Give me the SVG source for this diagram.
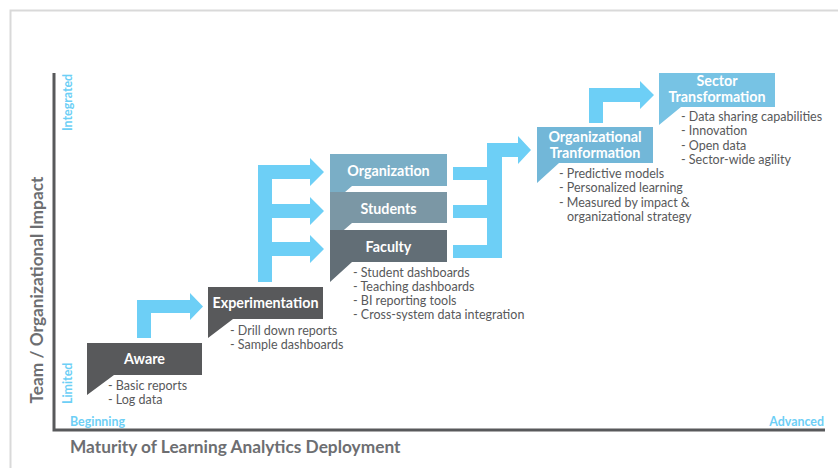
<svg xmlns="http://www.w3.org/2000/svg" width="838" height="468" viewBox="0 0 838 468">
<style>
.frame{fill:none;stroke:#d9d9d9;stroke-width:2}
.axis{fill:none;stroke:#58595b;stroke-width:3}
.arrow{fill:#6dcff6}
.dark{fill:#58595b}
.t{font-family:Lato,"Open Sans","Liberation Sans",sans-serif}
.title{font-weight:bold;font-size:14.3px;fill:#ffffff;text-anchor:middle}
.item{font-size:12.5px;fill:#58595b}
.axl{font-weight:bold;font-size:17.3px;fill:#6d6e71}
.tick{font-weight:bold;font-size:12.4px;fill:#6dcff6}
</style>
<rect width="838" height="468" fill="#ffffff"/>
<path class="frame" d="M838 10.5 H10.5 V468"/>
<g id="axes">
<path class="axis" d="M54 73 V430 H825"/>
<text class="t axl" transform="translate(43,290) rotate(-90)" text-anchor="middle">Team / Organizational Impact</text>
<text class="t axl" x="70" y="453">Maturity of Learning Analytics Deployment</text>
<text class="t tick" transform="translate(71.5,131) rotate(-90)">Integrated</text>
<text class="t tick" transform="translate(71.5,404) rotate(-90)">Limited</text>
<text class="t tick" x="70" y="426">Beginning</text>
<text class="t tick" x="824" y="426" text-anchor="end">Advanced</text>
</g>
<g id="connectors">
<polygon class="arrow" points="137,338 137,300 190,300 190,293 203,306.5 190,320 190,313 151,313 151,338"/>
<polygon class="arrow" points="258,282 258,165 310,165 310,158 324,172 310,186 310,179 272,179 272,204 310,204 310,197 324,211 310,225 310,218 272,218 272,242 310,242 310,235 324,249 310,263 310,256 272,256 272,282"/>
<polygon class="arrow" points="453,167 487,167 487,143 518,143 518,136 531,150 518,164 518,157 502,157 502,258 453,258 453,245 487,245 487,218 453,218 453,205 487,205 487,180 453,180"/>
<polygon class="arrow" points="589,123 589,88 640,88 640,81 654,95 640,109 640,102 603,102 603,123"/>
</g>
<g id="aware">
<polygon class="dark" points="87,343 202,343 202,375 114,375 87,395"/>
<text class="t title" x="144.5" y="364">Aware</text>
<text class="t item"><tspan x="108" y="390">- Basic reports</tspan><tspan x="108" y="404">- Log data</tspan></text>
</g>
<g id="experimentation">
<polygon class="dark" points="208,287 323,287 323,319 233,319 208,338"/>
<text class="t title" x="265.5" y="308">Experimentation</text>
<text class="t item"><tspan x="230" y="335">- Drill down reports</tspan><tspan x="230" y="349">- Sample dashboards</tspan></text>
</g>
<g id="organization">
<polygon fill="#7aaec6" points="330,154 447,154 447,186 352,186 330,205"/>
<text class="t title" x="388.5" y="176">Organization</text>
</g>
<g id="students">
<polygon fill="#7b97a5" points="330,192 447,192 447,223 352,223 330,242"/>
<text class="t title" x="388.5" y="214">Students</text>
</g>
<g id="faculty">
<polygon fill="#626e76" points="330,230 447,230 447,262 352,262 330,282"/>
<text class="t title" x="388.5" y="252">Faculty</text>
<text class="t item"><tspan x="353" y="277">- Student dashboards</tspan><tspan x="353" y="291">- Teaching dashboards</tspan><tspan x="353" y="305">- BI reporting tools</tspan><tspan x="353" y="319">- Cross-system data integration</tspan></text>
</g>
<g id="organizational-transformation">
<polygon fill="#72b7d8" points="537,127 653,127 653,163 559,163 537,183"/>
<text class="t title"><tspan x="595" y="142">Organizational</tspan><tspan x="595" y="158">Tranformation</tspan></text>
<text class="t item"><tspan x="559" y="178">- Predictive models</tspan><tspan x="559" y="192">- Personalized learning</tspan><tspan x="559" y="207">- Measured by impact &amp;</tspan><tspan x="567" y="221">organizational strategy</tspan></text>
</g>
<g id="sector-transformation">
<polygon fill="#77c3e4" points="659,73 775,73 775,107 681,107 659,125"/>
<text class="t title"><tspan x="717" y="85.5">Sector</tspan><tspan x="717" y="101.5">Transformation</tspan></text>
<text class="t item"><tspan x="681" y="121">- Data sharing capabilities</tspan><tspan x="681" y="135">- Innovation</tspan><tspan x="681" y="150">- Open data</tspan><tspan x="681" y="164">- Sector-wide agility</tspan></text>
</g>
</svg>
